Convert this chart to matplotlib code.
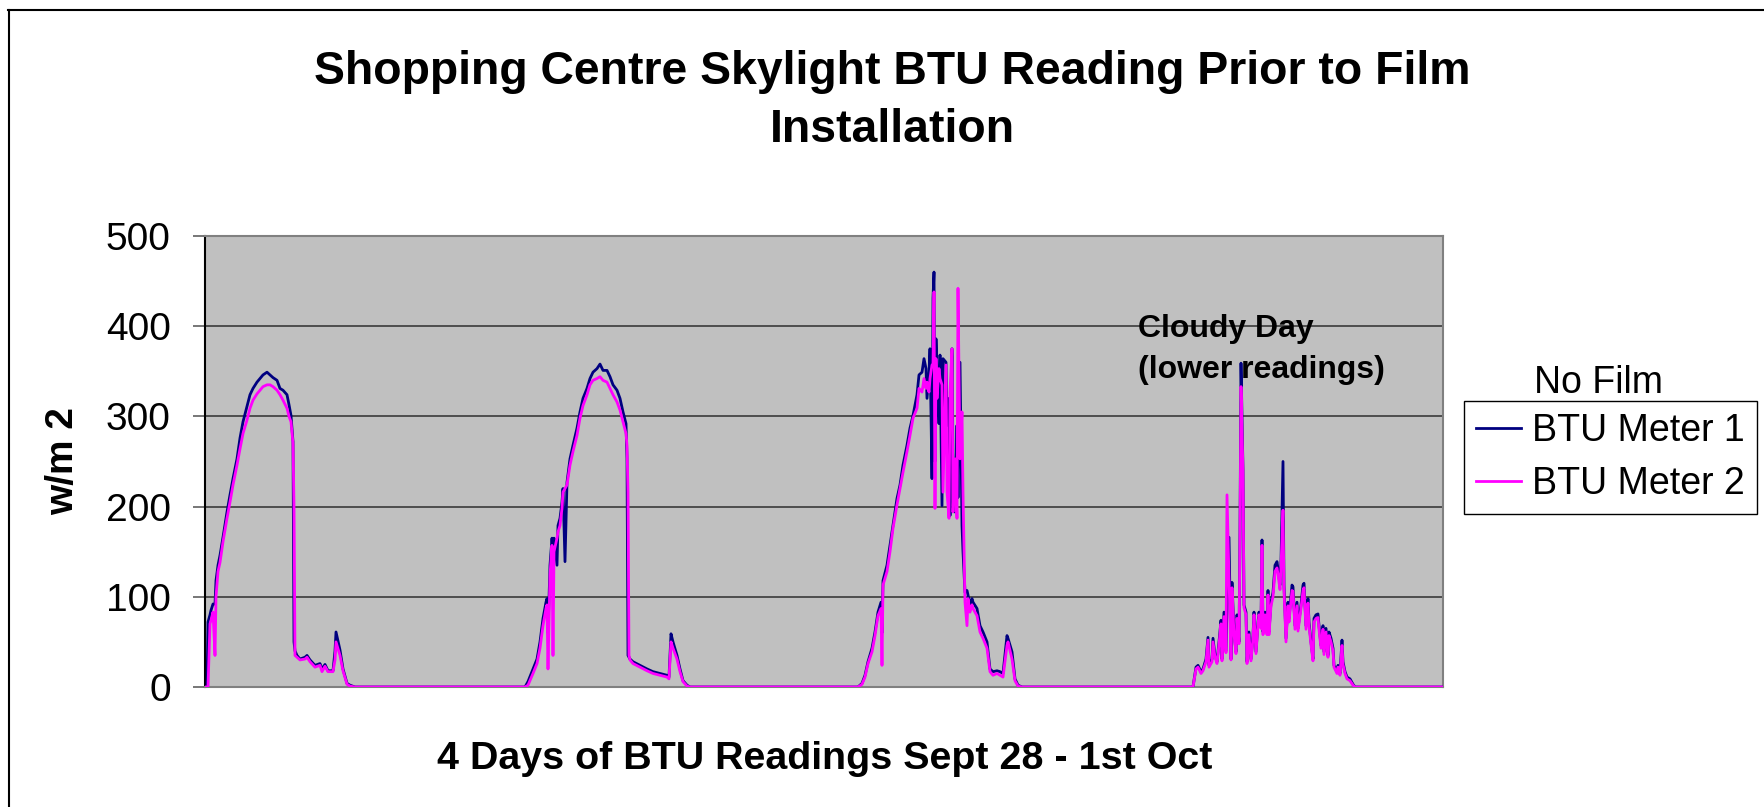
import numpy as np
import matplotlib
matplotlib.use('Agg')
import matplotlib.pyplot as plt
from matplotlib.lines import Line2D

plt.rcParams['font.family'] = ['Liberation Sans', 'DejaVu Sans']

# (reading no., BTU meter 1, BTU meter 2) in w/m2
day1 = [(0, 0, 0), (2, 0, 0), (3, 72, 0), (5, 80, 70), (6, 85, 74), (8, 92, 83), (10, 92, 35),
        (11, 118, 100), (13, 135, 128), (15, 146, 138), (18, 166, 161), (22, 194, 187),
        (25, 213, 205), (28, 231, 224), (32, 253, 246), (35, 276, 264), (38, 294, 281),
        (42, 311, 296), (45, 324, 309), (48, 331, 318), (52, 338, 325), (55, 342, 329),
        (58, 346, 333), (62, 349, 335), (65, 346, 335), (68, 343, 333), (72, 340, 329),
        (75, 331, 324), (78, 329, 318), (82, 324, 309), (84, 313, 300), (86, 301, 294),
        (88, 272, 270), (89, 50, 200), (90, 40, 35), (92, 35, 33), (95, 31, 30), (100, 33, 31),
        (102, 35, 33), (105, 30, 28), (110, 24, 22), (115, 26, 24), (117, 20, 17), (120, 25, 23),
        (123, 18, 17), (128, 18, 17), (130, 40, 30), (131, 61, 50), (135, 41, 35), (138, 20, 18),
        (142, 4, 3), (145, 2, 1), (150, 0, 0)]

day2 = [(320, 0, 0), (323, 6, 2), (328, 20, 15), (332, 31, 26), (335, 50, 43), (338, 76, 68),
        (341, 94, 87), (342, 98, 91), (343, 60, 20), (345, 135, 124), (347, 165, 157),
        (348, 150, 35), (349, 165, 150), (352, 135, 165), (353, 179, 172), (355, 187, 179),
        (357, 205, 198), (358, 220, 216), (360, 139, 220), (362, 227, 224), (365, 253, 246),
        (368, 268, 261), (372, 287, 279), (375, 305, 298), (378, 320, 312), (382, 331, 324),
        (385, 342, 335), (388, 349, 340), (392, 353, 342), (395, 358, 344), (398, 351, 340),
        (402, 351, 338), (405, 344, 331), (408, 335, 324), (412, 329, 316), (415, 320, 307),
        (418, 305, 294), (421, 292, 281), (422, 253, 268), (423, 35, 216), (424, 33, 35),
        (425, 31, 30), (428, 28, 26), (435, 24, 22), (442, 20, 18), (448, 17, 15), (455, 15, 13),
        (462, 13, 11), (464, 11, 9), (466, 59, 50), (468, 50, 43), (472, 35, 31), (475, 20, 17),
        (478, 7, 6), (482, 2, 1), (485, 0, 0)]

day3 = [(653, 0, 0), (657, 4, 3), (660, 13, 11), (663, 28, 26), (667, 43, 39), (670, 61, 57),
        (673, 83, 79), (676, 94, 87), (677, 60, 24), (678, 118, 113), (682, 135, 128),
        (685, 157, 150), (688, 179, 176), (692, 209, 202), (695, 224, 220), (698, 246, 238),
        (702, 268, 261), (705, 287, 279), (708, 301, 298), (712, 324, 309), (714, 346, 331),
        (717, 349, 327), (719, 364, 342), (721, 353, 331), (722, 320, 338), (724, 349, 327),
        (725, 375, 342), (727, 231, 357), (728, 431, 357), (729, 460, 438), (730, 250, 198),
        (731, 386, 364), (732, 349, 320), (734, 292, 353), (735, 368, 342), (737, 201, 335),
        (738, 364, 216), (741, 360, 357), (742, 290, 216), (744, 320, 187), (745, 190, 327),
        (747, 375, 375), (748, 253, 194), (750, 194, 253), (752, 290, 187), (753, 210, 442),
        (755, 360, 253), (757, 179, 305), (758, 150, 216), (760, 105, 94), (762, 107, 68),
        (763, 102, 98), (765, 91, 83), (767, 98, 91), (768, 94, 87), (772, 87, 79), (775, 68, 61),
        (778, 61, 54), (782, 50, 43), (785, 20, 17), (788, 17, 13), (792, 18, 15), (795, 17, 13),
        (798, 15, 11), (802, 57, 46), (803, 54, 50), (807, 39, 31), (810, 9, 7), (813, 2, 1),
        (817, 0, 0)]

# cloudy day
day4 = [(988, 0, 0), (991, 22, 20), (993, 24, 22), (996, 17, 15), (998, 20, 18), (1001, 31, 28),
        (1003, 55, 52), (1004, 24, 22), (1007, 31, 28), (1008, 54, 50), (1010, 35, 33),
        (1012, 28, 26), (1014, 50, 47), (1016, 74, 70), (1017, 31, 29), (1019, 83, 78),
        (1021, 40, 38), (1022, 90, 213), (1024, 166, 120), (1026, 31, 30), (1027, 116, 110),
        (1029, 61, 58), (1031, 39, 37), (1032, 80, 76), (1034, 50, 48), (1035, 172, 168),
        (1036, 359, 333), (1038, 240, 238), (1039, 91, 88), (1041, 83, 80), (1042, 28, 26),
        (1044, 61, 58), (1046, 31, 29), (1048, 57, 54), (1049, 83, 80), (1051, 39, 37),
        (1053, 72, 69), (1054, 83, 80), (1056, 68, 65), (1057, 163, 157), (1058, 61, 58),
        (1060, 83, 80), (1062, 61, 58), (1063, 107, 102), (1064, 61, 58), (1066, 94, 90),
        (1068, 105, 100), (1070, 135, 128), (1072, 139, 132), (1073, 131, 125), (1075, 113, 108),
        (1076, 139, 133), (1078, 250, 196), (1079, 113, 108), (1081, 54, 50), (1083, 94, 90),
        (1084, 76, 72), (1087, 113, 107), (1088, 111, 106), (1090, 68, 64), (1092, 94, 90),
        (1093, 65, 62), (1096, 91, 87), (1098, 113, 107), (1099, 115, 110), (1101, 68, 64),
        (1103, 98, 93), (1104, 72, 68), (1106, 50, 47), (1108, 31, 29), (1109, 76, 72),
        (1111, 80, 76), (1113, 81, 77), (1114, 68, 64), (1116, 46, 43), (1118, 68, 64),
        (1119, 39, 36), (1121, 65, 61), (1123, 35, 33), (1124, 61, 57), (1126, 54, 50),
        (1128, 43, 40), (1129, 24, 22), (1132, 17, 15), (1133, 24, 22), (1135, 15, 13),
        (1137, 52, 46), (1138, 28, 25), (1140, 17, 15), (1142, 11, 9), (1145, 9, 7),
        (1148, 3, 2), (1150, 0, 0), (1238, 0, 0)]

rows = np.array(day1 + day2 + day3 + day4)
reading, meter1, meter2 = rows[:, 0], rows[:, 1], rows[:, 2]

W, H = 1764, 807
fig = plt.figure(figsize=(W / 100, H / 100), dpi=100, facecolor='white')
ax = fig.add_axes([205 / W, 1 - 687 / H, (1443 - 205) / W, (687 - 236) / H])
ax.set_facecolor('#C0C0C0')

ax.plot(reading, meter1, color='#000080', lw=2.0, label='BTU Meter 1', zorder=3)
ax.plot(reading, meter2, color='#FF00FF', lw=2.0, label='BTU Meter 2', zorder=4)

ax.set_xlim(0, 1238)
ax.set_ylim(0, 500)
ax.set_xticks([])
ax.set_yticks(range(0, 501, 100))
ax.tick_params(axis='y', length=8.6, width=1.2, color='#606060', pad=16, labelsize=28)
ax.yaxis.grid(True, color='#3a3a3a', lw=1.2)
ax.set_axisbelow(True)

ax.spines['left'].set_color('black')
ax.spines['left'].set_linewidth(1.5)
for s in ['top', 'right', 'bottom']:
    ax.spines[s].set_color('#808080')
    ax.spines[s].set_linewidth(1.5)

ax.text(933, 374, 'Cloudy Day\n(lower readings)', fontsize=23, fontweight='bold',
        ha='left', va='center', linespacing=1.5, zorder=5)

fig.text(892 / W, 1 - 101 / H, 'Shopping Centre Skylight BTU Reading Prior to Film\nInstallation',
         ha='center', va='center', fontsize=33.4, fontweight='bold', linespacing=1.42)
fig.text(825 / W, 1 - 759 / H, '4 Days of BTU Readings Sept 28 - 1st Oct',
         ha='center', va='center', fontsize=28.4, fontweight='bold')
fig.text(63 / W, 1 - 461 / H, 'w/m 2', rotation=90, ha='center', va='center',
         fontsize=28, fontweight='bold')

leg = ax.legend(loc='upper left', bbox_to_anchor=(1464 / W, 1 - 401 / H),
                bbox_transform=fig.transFigure, fontsize=27, frameon=True, fancybox=False,
                edgecolor='black', framealpha=1, borderaxespad=0, borderpad=0.32,
                handlelength=1.2, handletextpad=0.3, labelspacing=0.45)
leg.get_frame().set_linewidth(1.0)
fig.text(1599 / W, 1 - 383 / H, 'No Film', ha='center', va='center', fontsize=27)

# page frame around the chart
fig.add_artist(Line2D([8 / W, 1], [1 - 10 / H] * 2, color='black', lw=1.5))
fig.add_artist(Line2D([9 / W] * 2, [0, 1 - 10 / H], color='black', lw=1.5))

fig.savefig('out.png', dpi=100, facecolor='white')
